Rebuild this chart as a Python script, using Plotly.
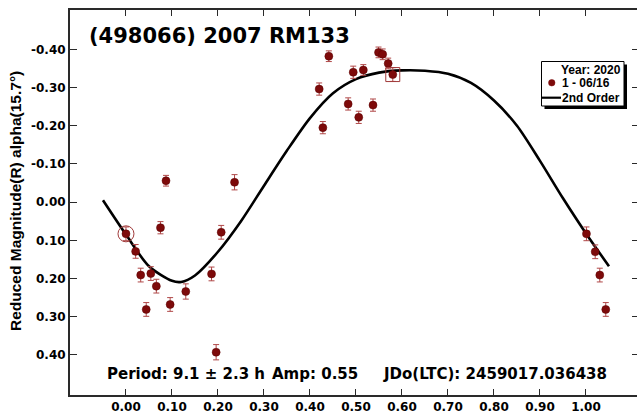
import plotly.graph_objects as go

# ---- data ----
phase = [0.000, 0.021, 0.032, 0.044, 0.054, 0.066, 0.075, 0.087, 0.096, 0.130,
         0.186, 0.196, 0.207, 0.236,
         0.420, 0.428, 0.441, 0.483, 0.494, 0.506, 0.516, 0.537, 0.549, 0.558,
         0.570, 0.580,
         1.001, 1.020, 1.030, 1.043]
mag = [0.083, 0.129, 0.191, 0.281, 0.187, 0.220, 0.067, -0.056, 0.268, 0.234,
       0.188, 0.393, 0.079, -0.052,
       -0.296, -0.195, -0.382, -0.257, -0.340, -0.222, -0.346, -0.254, -0.392, -0.387,
       -0.363, -0.334,
       0.083, 0.130, 0.191, 0.281]
err = [0.018, 0.018, 0.018, 0.018, 0.018, 0.018, 0.016, 0.014, 0.018, 0.020,
       0.018, 0.020, 0.018, 0.020,
       0.016, 0.016, 0.014, 0.016, 0.016, 0.016, 0.014, 0.016, 0.014, 0.014,
       0.014, 0.018,
       0.018, 0.018, 0.018, 0.018]

fit_phase = [-0.05, 0.00, 0.05, 0.10, 0.12, 0.15, 0.20, 0.25, 0.30, 0.35, 0.40,
             0.45, 0.50, 0.55, 0.60, 0.65, 0.70, 0.75, 0.80, 0.85, 0.90, 0.95,
             1.00, 1.05]
fit_mag = [-0.005, 0.085, 0.168, 0.206, 0.209, 0.192, 0.130, 0.050, -0.043, -0.135,
           -0.220, -0.285, -0.322, -0.339, -0.345, -0.344, -0.336, -0.312, -0.266,
           -0.200, -0.108, -0.010, 0.082, 0.168]

circled_point = ([0.000], [0.083])
boxed_point = ([0.580], [-0.334])

x_ticks = [0.0, 0.1, 0.2, 0.3, 0.4, 0.5, 0.6, 0.7, 0.8, 0.9, 1.0]
y_ticks = [-0.4, -0.3, -0.2, -0.1, 0.0, 0.1, 0.2, 0.3, 0.4]

title_text = "(498066) 2007 RM133"
y_title = "Reduced Magnitude(R) alpha(15.7°)"
period_text = "Period: 9.1 ± 2.3 h"
amp_text = "Amp: 0.55"
jd_text = "JDo(LTC): 2459017.036438"
legend_title = "Year: 2020"
legend_series = "1 - 06/16"
legend_fit = "2nd Order"

# ---- layout geometry ----
W, H = 637, 418
L, R, T, B = 70, 637, 10, 395
XR = [-0.1217, 1.1109]
YR = [0.505, -0.503]


def px(x):
    return (x - L) / (R - L)


def py(y):
    return (B - y) / (B - T)


DARK = "#7d0a0a"
ERRC = "#b04848"
AX = "#2a2a2a"
TICKFONT = dict(family="DejaVu Sans", size=12, color="black", weight="bold")

fig = go.Figure()

fig.add_trace(go.Scatter(
    x=fit_phase, y=fit_mag, mode="lines",
    line=dict(color="black", width=2.6, shape="spline", smoothing=0.8),
    showlegend=False, hoverinfo="skip"))

fig.add_trace(go.Scatter(
    x=phase, y=mag, mode="markers",
    marker=dict(color=DARK, size=8, line=dict(color="#5a0000", width=0.5)),
    error_y=dict(type="data", array=err, visible=True, color=ERRC,
                 thickness=1, width=3),
    showlegend=False))

fig.add_trace(go.Scatter(
    x=circled_point[0], y=circled_point[1], mode="markers",
    marker=dict(symbol="circle-open", size=16, color="#a03a3a",
                line=dict(width=1, color="#a03a3a")),
    showlegend=False, hoverinfo="skip"))

fig.add_trace(go.Scatter(
    x=boxed_point[0], y=boxed_point[1], mode="markers",
    marker=dict(symbol="square-open", size=14, color="#a03a3a",
                line=dict(width=1, color="#a03a3a")),
    showlegend=False, hoverinfo="skip"))

# invisible trace to carry the right-hand tick axis
fig.add_trace(go.Scatter(x=[None], y=[None], yaxis="y2", showlegend=False,
                         hoverinfo="skip"))

annotations = [
    dict(text=title_text, x=px(87), y=py(36), xref="paper", yref="paper",
         xanchor="left", yanchor="middle", showarrow=False,
         font=dict(family="DejaVu Sans", size=21, color="black", weight="bold")),
    dict(text=period_text, x=px(105), y=py(374), xref="paper", yref="paper",
         xanchor="left", yanchor="middle", showarrow=False,
         font=dict(family="DejaVu Sans", size=15, color="black", weight="bold")),
    dict(text=amp_text, x=px(270), y=py(374), xref="paper", yref="paper",
         xanchor="left", yanchor="middle", showarrow=False,
         font=dict(family="DejaVu Sans", size=15, color="black", weight="bold")),
    dict(text=jd_text, x=px(381), y=py(374), xref="paper", yref="paper",
         xanchor="left", yanchor="middle", showarrow=False,
         font=dict(family="DejaVu Sans", size=15, color="black", weight="bold")),
    dict(text=y_title, x=px(15), y=py(201), xref="paper", yref="paper",
         xanchor="center", yanchor="middle", showarrow=False, textangle=-90,
         font=dict(family="Liberation Sans", size=15.5, color="black", weight="bold")),
    dict(text=legend_title, x=px(623), y=py(70), xref="paper", yref="paper",
         xanchor="right", yanchor="middle", showarrow=False,
         font=dict(family="Liberation Sans", size=12, color="black", weight="bold")),
    dict(text=legend_series, x=px(560), y=py(83), xref="paper", yref="paper",
         xanchor="left", yanchor="middle", showarrow=False,
         font=dict(family="Liberation Sans", size=12, color="black", weight="bold")),
    dict(text=legend_fit, x=px(560), y=py(97.5), xref="paper", yref="paper",
         xanchor="left", yanchor="middle", showarrow=False,
         font=dict(family="Liberation Sans", size=12, color="black", weight="bold")),
]

shapes = [
    # legend shadow and box
    dict(type="rect", xref="paper", yref="paper", x0=px(544.5), x1=px(627),
         y0=py(109), y1=py(64.5), fillcolor="black", line=dict(width=0)),
    dict(type="rect", xref="paper", yref="paper", x0=px(541.5), x1=px(624),
         y0=py(106), y1=py(61.5), fillcolor="white", line=dict(color="black", width=1)),
    dict(type="circle", xref="paper", yref="paper", x0=px(548.5), x1=px(555),
         y0=py(86), y1=py(79.5), fillcolor=DARK, line=dict(color=DARK, width=0.5)),
    dict(type="line", xref="paper", yref="paper", x0=px(542), x1=px(561),
         y0=py(97.7), y1=py(97.7), line=dict(color="black", width=2.2)),
]

fig.update_layout(
    width=W, height=H,
    margin=dict(l=L, r=W - R, t=T, b=H - B),
    paper_bgcolor="white", plot_bgcolor="white",
    showlegend=False,
    annotations=annotations,
    shapes=shapes,
    xaxis=dict(range=XR, tickvals=x_ticks, ticktext=[f"{v:.2f}" for v in x_ticks],
               ticks="inside", ticklen=6, tickwidth=1.2, tickcolor=AX,
               showline=True, linecolor=AX, linewidth=2, mirror="ticks",
               showgrid=False, zeroline=False, tickfont=TICKFONT),
    yaxis=dict(range=YR, tickvals=y_ticks, ticktext=[f"{v:.2f}" for v in y_ticks],
               ticks="inside", ticklen=7, tickwidth=1.2, tickcolor=AX,
               showline=True, linecolor=AX, linewidth=2,
               showgrid=False, zeroline=False, tickfont=TICKFONT),
    yaxis2=dict(range=YR, tickvals=y_ticks, overlaying="y", side="right",
                ticks="inside", ticklen=5, tickwidth=1.2, tickcolor=AX,
                showticklabels=False, showline=False, showgrid=False,
                zeroline=False),
)

fig.write_html("out.html")
